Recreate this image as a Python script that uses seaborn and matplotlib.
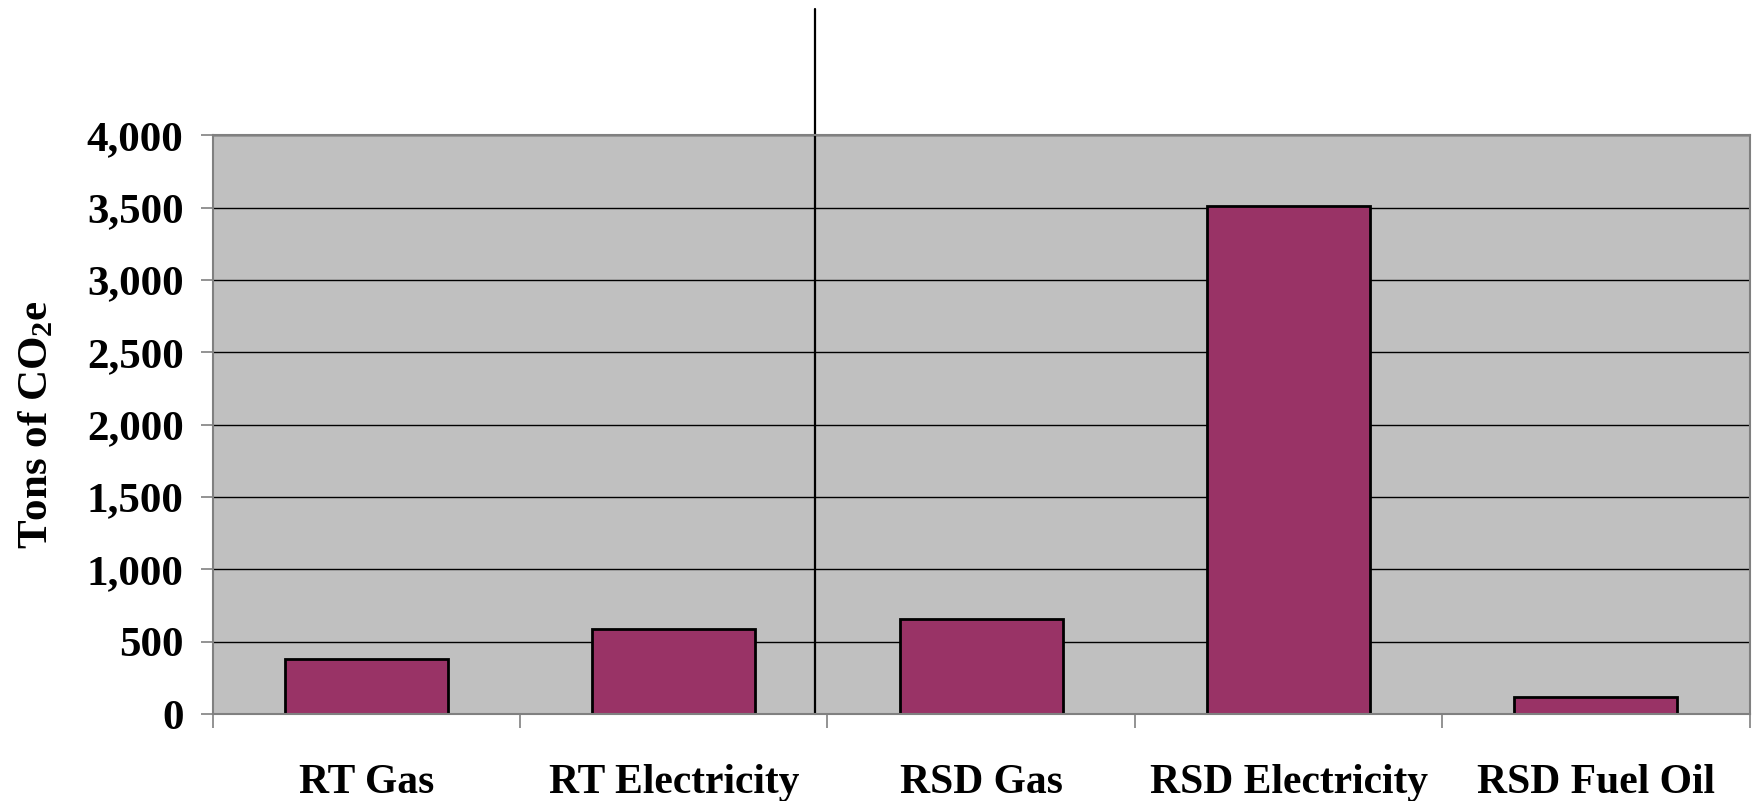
import pandas as pd
import matplotlib
matplotlib.use("Agg")
import matplotlib.pyplot as plt
from matplotlib.ticker import FuncFormatter, FixedLocator
import seaborn as sns

# values
categories = ["RT Gas", "RT Electricity", "RSD Gas", "RSD Electricity", "RSD Fuel Oil"]
tons_co2e = [380, 590, 660, 3515, 118]
y_ticks = [0, 500, 1000, 1500, 2000, 2500, 3000, 3500, 4000]

emissions = pd.DataFrame({"Source": categories, "Tons": tons_co2e})

sns.set_style("white")
plt.rcParams["font.family"] = ["Liberation Serif", "DejaVu Serif"]
plt.rcParams["font.weight"] = "bold"
plt.rcParams["text.color"] = "black"
plt.rcParams["axes.labelcolor"] = "black"
plt.rcParams["xtick.labelcolor"] = "black"
plt.rcParams["ytick.labelcolor"] = "black"
plt.rcParams["mathtext.fontset"] = "custom"
plt.rcParams["mathtext.rm"] = "Liberation Serif:bold"
plt.rcParams["mathtext.default"] = "rm"

fig = plt.figure(figsize=(17.55, 8.01), dpi=100)
ax = fig.add_axes([0.1212, 0.1086, 0.8757, 0.7224])
ax.set_facecolor("#C0C0C0")

sns.barplot(data=emissions, x="Source", y="Tons", color="#993366",
            edgecolor="black", linewidth=2.0, width=0.53, saturation=1, ax=ax)

ax.set_ylim(0, 4000)
ax.set_xlim(-0.5, len(categories) - 0.5)
ax.set_yticks(y_ticks)
ax.yaxis.set_major_formatter(FuncFormatter(lambda v, p: f"{int(v):,}"))
ax.grid(axis="y", color="black", linewidth=1.0)
ax.set_axisbelow(True)

for side in ["top", "right", "left", "bottom"]:
    ax.spines[side].set_color("#808080")
    ax.spines[side].set_linewidth(1.5)

ax.tick_params(axis="y", which="major", length=9, width=1.2, color="#808080",
               pad=12, labelsize=31, left=True, labelcolor="black")
ax.tick_params(axis="x", which="major", length=0, pad=36, labelsize=30, labelcolor="black")
ax.xaxis.set_minor_locator(FixedLocator([i - 0.5 for i in range(len(categories) + 1)]))
ax.tick_params(axis="x", which="minor", length=10, width=1.2, color="#808080", bottom=True)
for lab in ax.get_xticklabels() + ax.get_yticklabels():
    lab.set_fontweight("bold")

ax.set_xlabel("")
ax.set_ylabel("Tons of CO$_2$e", fontsize=31, fontweight="bold", labelpad=22, color="black")

# divider between RT and RSD sources
ax.axvline(1.46, ymin=0, ymax=1.218, color="black", linewidth=1.6, clip_on=False)

fig.savefig("out.png", dpi=100)
